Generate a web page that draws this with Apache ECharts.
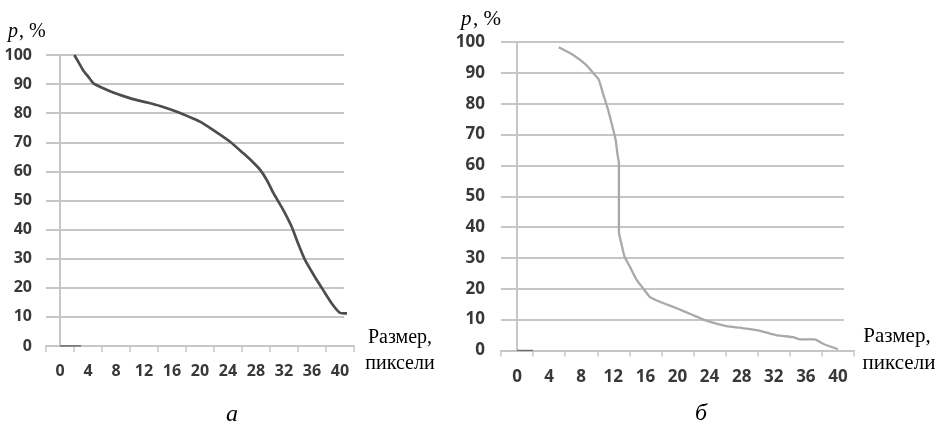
<!DOCTYPE html>
<html>
<head>
<meta charset="utf-8">
<script src="https://cdn.jsdelivr.net/npm/echarts@6/dist/echarts.min.js"></script>
<style>
html,body{margin:0;padding:0;background:#fff;}
#c{width:947px;height:426px;}
</style>
</head>
<body>
<div id="c"></div>
<script>
// ---- Data ----
// Chart (а): size in pixels vs p, %
const sizeA = [2.05, 2.6, 3.3, 4.05, 4.76, 5.2, 5.7, 7.6, 9.3, 11, 12.6, 14.3, 16.7, 19, 20, 21.9, 24.3, 26.2, 27.5, 28.6, 29.6, 30.5, 31.9, 33.1, 34, 35, 36.4, 37.6, 38.8, 40, 41];
const pA    = [100, 97.7, 94.8, 92.5, 90.3, 89.7, 89.1, 87.1, 85.7, 84.5, 83.6, 82.5, 80.5, 78.2, 77.1, 74.2, 70.2, 66.2, 63.3, 60.5, 56.8, 52.5, 46.7, 41, 35.3, 29.6, 23.8, 19.2, 14.7, 11.4, 11.2];
const baseSizeA = [0, 3];
const baseA = [0, 0];
// Chart (б)
const sizeB = [5.2, 7.0, 8.65, 9.5, 10.2, 10.7, 11.35, 11.9, 12.3, 12.5, 12.7, 12.7, 13.0, 13.4, 14.05, 14.9, 15.7, 16.55, 17.8, 19.9, 21.9, 23.6, 26.1, 28.2, 30.3, 32.3, 34.4, 35.3, 37.1, 38.2, 40.0];
const pB    = [98.3, 95.8, 92.5, 89.9, 87.7, 83.4, 78, 72.5, 68.2, 63.9, 60.7, 38.3, 34.7, 30.4, 27.2, 22.9, 20.2, 17.4, 15.8, 13.7, 11.5, 9.7, 7.9, 7.2, 6.4, 5.0, 4.3, 3.6, 3.6, 2.1, 0.4];
const baseSizeB = [0, 2];
const baseB = [0, 0];
// Axis ticks and labels
const xTickLabels = [0, 4, 8, 12, 16, 20, 24, 28, 32, 36, 40];
const xTickMarks = [-2, 2, 6, 10, 14, 18, 22, 26, 30, 34, 38, 42];
const xMin = -2, xMax = 42;
const yMin = 0, yMax = 100, yStep = 10;
const xAxisTitle = ['Размер,', 'пиксели'];
const yAxisTitle = ['p', ', %'];
const captions = ['а', 'б'];

const zip = (a, b) => a.map((v, i) => [v, b[i]]);

const gridCol = '#c6c6c6';
const labelColor = '#383838';
const tickFont = '"Open Sans"';

function mainX(gi, fs, margin) {
  return {
    type: 'value', gridIndex: gi, min: xMin, max: xMax,
    axisLine: {show: true, lineStyle: {color: gridCol, width: 2}},
    axisTick: {show: true, customValues: xTickMarks, length: 6, lineStyle: {color: gridCol, width: 1.5}},
    axisLabel: {show: true, customValues: xTickLabels, margin: margin, fontFamily: tickFont, fontWeight: 'bold', fontSize: fs, color: labelColor},
    splitLine: {show: false}
  };
}
function mainY(gi, fs, margin) {
  return {
    type: 'value', gridIndex: gi, min: yMin, max: yMax, interval: yStep,
    axisLine: {show: true, lineStyle: {color: gridCol, width: 2}},
    axisTick: {show: true, length: 6, lineStyle: {color: gridCol, width: 2}},
    axisLabel: {show: true, margin: margin, fontFamily: tickFont, fontWeight: 'bold', fontSize: fs, color: labelColor},
    splitLine: {show: false}
  };
}
function hiddenX(gi) {
  return {type: 'value', gridIndex: gi, min: xMin, max: xMax, show: false};
}
function gridY(gi) {
  return {
    type: 'value', gridIndex: gi, min: yMin, max: yMax, interval: yStep,
    axisLine: {show: false}, axisTick: {show: false}, axisLabel: {show: false},
    splitLine: {show: true, lineStyle: {color: gridCol, width: 2}}
  };
}

const chart = echarts.init(document.getElementById('c'), null, {renderer: 'canvas'});
chart.setOption({
  animation: false,
  backgroundColor: '#ffffff',
  grid: [
    {left: 46, right: 603, top: 55, bottom: 80}, // gridlines a
    {left: 501, right: 103, top: 42, bottom: 75.5}, // gridlines b
    {left: 46, right: 593, top: 55, bottom: 80}, // main a
    {left: 501, right: 93, top: 42, bottom: 75.5} // main b
  ],
  xAxis: [hiddenX(0), hiddenX(1), mainX(2, 16, 17), mainX(3, 17, 18)],
  yAxis: [gridY(0), gridY(1), mainY(2, 16, 14), mainY(3, 17, 16)],
  series: [
    {type: 'line', xAxisIndex: 2, yAxisIndex: 2, data: zip(sizeA, pA), symbol: 'none', smooth: 0.2,
     lineStyle: {color: '#4d4d4d', width: 2.7}},
    {type: 'line', xAxisIndex: 2, yAxisIndex: 2, data: zip(baseSizeA, baseA), symbol: 'none',
     lineStyle: {color: '#606060', width: 1.5}},
    {type: 'line', xAxisIndex: 3, yAxisIndex: 3, data: zip(sizeB, pB), symbol: 'none', smooth: 0.15,
     lineStyle: {color: '#a9a9a9', width: 2.3}},
    {type: 'line', xAxisIndex: 3, yAxisIndex: 3, data: zip(baseSizeB, baseB), symbol: 'none',
     lineStyle: {color: '#707070', width: 1.5}}
  ],
  graphic: [
    // y titles
    {type: 'text', x: 8, y: 42, style: {text: yAxisTitle[0], font: 'italic 20px "Liberation Serif"', fill: '#000', verticalAlign: 'bottom'}},
    {type: 'text', x: 19, y: 42, style: {text: yAxisTitle[1], font: '20px "Liberation Serif"', fill: '#000', verticalAlign: 'bottom'}},
    {type: 'text', x: 461, y: 30, style: {text: yAxisTitle[0], font: 'italic 21px "Liberation Serif"', fill: '#000', verticalAlign: 'bottom'}},
    {type: 'text', x: 473, y: 30, style: {text: yAxisTitle[1], font: '21px "Liberation Serif"', fill: '#000', verticalAlign: 'bottom'}},
    // x titles
    {type: 'text', x: 400, y: 348, style: {text: xAxisTitle[0], font: '20px "Liberation Serif"', fill: '#000', align: 'center', verticalAlign: 'bottom'}},
    {type: 'text', x: 400, y: 374, style: {text: xAxisTitle[1], font: '20px "Liberation Serif"', fill: '#000', align: 'center', verticalAlign: 'bottom'}},
    {type: 'text', x: 897, y: 347, style: {text: xAxisTitle[0], font: '21px "Liberation Serif"', fill: '#000', align: 'center', verticalAlign: 'bottom'}},
    {type: 'text', x: 899, y: 374, style: {text: xAxisTitle[1], font: '21px "Liberation Serif"', fill: '#000', align: 'center', verticalAlign: 'bottom'}},
    // captions
    {type: 'text', x: 232, y: 427, style: {text: captions[0], font: 'italic 24px "Liberation Serif"', fill: '#000', align: 'center', verticalAlign: 'bottom'}},
    {type: 'text', x: 701, y: 426, style: {text: captions[1], font: 'italic 24px "Liberation Serif"', fill: '#000', align: 'center', verticalAlign: 'bottom'}}
  ]
});
</script>
</body>
</html>
